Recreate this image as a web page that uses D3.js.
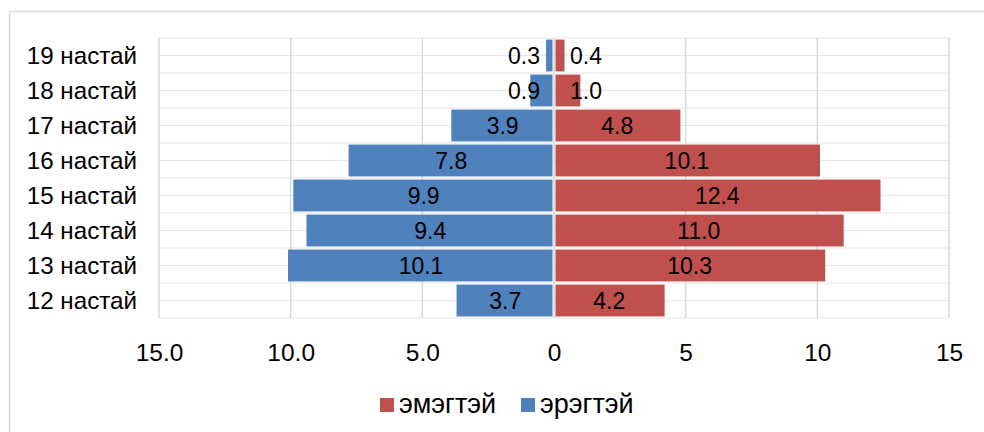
<!DOCTYPE html>
<html>
<head>
<meta charset="utf-8">
<script src="https://cdn.jsdelivr.net/npm/d3@7"></script>
<style>
  body { margin: 0; background: #fff; }
  svg { font-family: "Liberation Sans", Arial, sans-serif; }
</style>
</head>
<body>
<svg id="chart" width="984" height="432"></svg>
<script>
// насны ангилал ба хувь
const categories = ["19 настай", "18 настай", "17 настай", "16 настай", "15 настай", "14 настай", "13 настай", "12 настай"];
const male = [0.3, 0.9, 3.9, 7.8, 9.9, 9.4, 10.1, 3.7];
const female = [0.4, 1.0, 4.8, 10.1, 12.4, 11.0, 10.3, 4.2];
const xTicks = [-15, -10, -5, 0, 5, 10, 15];
const xTickLabels = ["15.0", "10.0", "5.0", "0", "5", "10", "15"];
const legendItems = [["эмэгтэй", "#c0504d"], ["эрэгтэй", "#4f81bd"]];

const svg = d3.select("#chart");

// гадна хүрээ
svg.append("rect")
    .attr("x", 9.5).attr("y", 11.5)
    .attr("width", 990).attr("height", 440)
    .attr("fill", "none").attr("stroke", "#d9d9d9").attr("stroke-width", 1.5);

const x = d3.scaleLinear().domain([-15, 15]).range([159, 949]);
const y = d3.scaleBand().domain(categories).range([38, 318])
    .paddingInner(0.09).paddingOuter(0.045);

// хэвтээ сүлжээ
const half = y.step() / 2;
svg.append("g").selectAll("line")
    .data(d3.range(0, categories.length * 2 + 1))
    .enter().append("line")
    .attr("x1", x(-15)).attr("x2", x(15))
    .attr("y1", i => y.range()[0] + i * half)
    .attr("y2", i => y.range()[0] + i * half)
    .attr("stroke", "#e6e6e6").attr("stroke-width", 1.2);

// босоо сүлжээ
svg.append("g").selectAll("line")
    .data(xTicks)
    .enter().append("line")
    .attr("x1", d => x(d)).attr("x2", d => x(d))
    .attr("y1", y.range()[0]).attr("y2", y.range()[1])
    .attr("stroke", "#d9d9d9").attr("stroke-width", 1.5);

// эрэгтэй
svg.append("g").selectAll("rect")
    .data(male)
    .enter().append("rect")
    .attr("x", d => x(-d))
    .attr("y", (d, i) => y(categories[i]))
    .attr("width", d => x(0) - x(-d) - 1.5)
    .attr("height", y.bandwidth())
    .attr("fill", "#4f81bd");

// эмэгтэй
svg.append("g").selectAll("rect")
    .data(female)
    .enter().append("rect")
    .attr("x", x(0) + 1.5)
    .attr("y", (d, i) => y(categories[i]))
    .attr("width", d => x(d) - x(0) - 1.5)
    .attr("height", y.bandwidth())
    .attr("fill", "#c0504d");

// утгын шошго
const lblFont = 23;
svg.append("g").selectAll("text")
    .data(male)
    .enter().append("text")
    .attr("x", d => d < 2 ? x(0) - 14 : (x(-d) + x(0)) / 2)
    .attr("y", (d, i) => y(categories[i]) + y.bandwidth() / 2)
    .attr("dy", "0.38em")
    .attr("text-anchor", d => d < 2 ? "end" : "middle")
    .attr("font-size", lblFont)
    .attr("fill", "#000")
    .text(d => d.toFixed(1));

svg.append("g").selectAll("text")
    .data(female)
    .enter().append("text")
    .attr("x", d => d < 2 ? x(0) + 16 : (x(d) + x(0)) / 2)
    .attr("y", (d, i) => y(categories[i]) + y.bandwidth() / 2)
    .attr("dy", "0.38em")
    .attr("text-anchor", d => d < 2 ? "start" : "middle")
    .attr("font-size", lblFont)
    .attr("fill", "#000")
    .text(d => d.toFixed(1));

// тэнхлэгүүд
const xAxis = svg.append("g")
    .attr("transform", `translate(0,${y.range()[1]})`)
    .call(d3.axisBottom(x).tickValues(xTicks)
        .tickFormat((d, i) => xTickLabels[i]).tickSize(0).tickPadding(26));
xAxis.select(".domain").remove();
xAxis.selectAll("text").attr("font-size", 24.5).attr("fill", "#000")
    .attr("font-family", "Liberation Sans, Arial, sans-serif");

const yAxis = svg.append("g")
    .attr("transform", `translate(${x(-15)},0)`)
    .call(d3.axisLeft(y).tickSize(0).tickPadding(22));
yAxis.select(".domain").remove();
yAxis.selectAll("text").attr("font-size", 24.2).attr("fill", "#000")
    .attr("dy", "0.35em")
    .attr("font-family", "Liberation Sans, Arial, sans-serif");

// тайлбар
const legend = svg.append("g").attr("transform", "translate(380,398)");
const lg = legend.selectAll("g")
    .data(legendItems)
    .enter().append("g")
    .attr("transform", (d, i) => `translate(${i * 141},0)`);
lg.append("rect").attr("width", 14).attr("height", 14).attr("fill", d => d[1]);
lg.append("text")
    .attr("x", 19).attr("y", 15)
    .attr("font-size", 27).attr("fill", "#000")
    .text(d => d[0]);
</script>
</body>
</html>
